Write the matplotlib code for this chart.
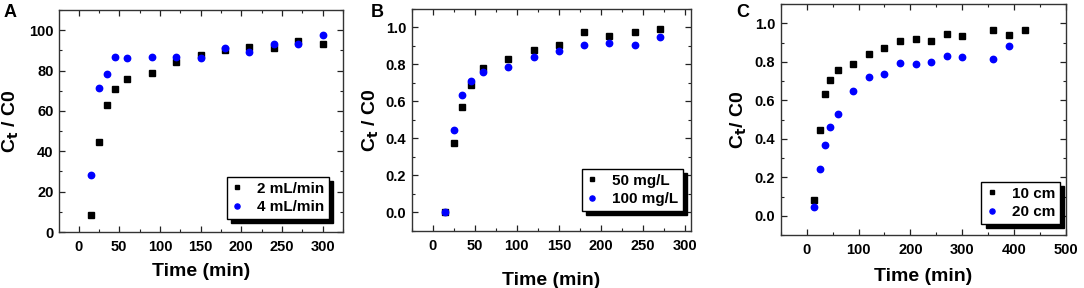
import matplotlib
matplotlib.use('Agg')
import matplotlib.pyplot as plt
from matplotlib.ticker import MultipleLocator

plt.rcParams['font.family'] = ['Liberation Sans', 'DejaVu Sans']
plt.rcParams['font.weight'] = 'bold'
plt.rcParams['mathtext.default'] = 'bf'

### panel A: flow rate
x_a = [15, 25, 35, 45, 60, 90, 120, 150, 180, 210, 240, 270, 300]
a_2ml = [8.6, 44.6, 63.1, 70.7, 75.8, 79.0, 84.2, 87.5, 90.4, 91.8, 91.0, 94.6, 93.2]
a_4ml = [28.3, 71.3, 78.2, 86.9, 86.4, 86.8, 86.9, 86.3, 91.2, 89.4, 93.3, 93.3, 97.4]

### panel B: initial concentration
x_b = [15, 25, 35, 45, 60, 90, 120, 150, 180, 210, 240, 270]
b_50 = [0.0, 0.373, 0.569, 0.686, 0.782, 0.827, 0.877, 0.906, 0.974, 0.956, 0.974, 0.990]
b_100 = [0.0, 0.447, 0.632, 0.708, 0.757, 0.787, 0.842, 0.874, 0.907, 0.915, 0.907, 0.946]

### panel C: bed height
x_c10 = [15, 25, 35, 45, 60, 90, 120, 150, 180, 210, 240, 270, 300, 360, 390, 420]
c_10 = [0.083, 0.447, 0.630, 0.706, 0.756, 0.788, 0.842, 0.873, 0.908, 0.916, 0.908,
        0.944, 0.936, 0.967, 0.941, 0.967]
x_c20 = [15, 25, 35, 45, 60, 90, 120, 150, 180, 210, 240, 270, 300, 360, 390]
c_20 = [0.047, 0.243, 0.370, 0.459, 0.527, 0.647, 0.722, 0.737, 0.795, 0.786, 0.797,
        0.828, 0.824, 0.814, 0.880]

fig = plt.figure(figsize=(10.84, 2.88), dpi=100)

def px_axes(l, r, t, b):
    W, H = 1084., 288.
    return fig.add_axes([l/W, 1 - b/H, (r - l)/W, (b - t)/H])

def style(ax, xmaj, ymaj):
    ax.xaxis.set_major_locator(MultipleLocator(xmaj))
    ax.xaxis.set_minor_locator(MultipleLocator(xmaj/2.))
    ax.yaxis.set_major_locator(MultipleLocator(ymaj))
    ax.yaxis.set_minor_locator(MultipleLocator(ymaj/2.))
    ax.tick_params(which='both', direction='in', top=True, right=True, colors='#222222',
                   labelcolor='black', labelsize=10.5)
    ax.tick_params(which='major', length=4, width=0.9)
    ax.tick_params(which='minor', length=2.5, width=0.8)
    ax.tick_params(axis='x', pad=6)
    ax.tick_params(axis='y', pad=4)
    for s in ax.spines.values():
        s.set_color('#333333')
        s.set_linewidth(1.0)

def draw(ax, xs1, ys1, lab1, xs2, ys2, lab2, anchor):
    ax.plot(xs1, ys1, 's', color='black', markersize=4.4, label=lab1)
    ax.plot(xs2, ys2, 'o', color='#0000ff', markersize=4.6, label=lab2)
    leg = ax.legend(loc='lower right', bbox_to_anchor=anchor, borderaxespad=0,
                    fancybox=False, shadow={'ox': 3, 'oy': -3, 'color': 'black', 'alpha': 1},
                    edgecolor='black', framealpha=1, markerscale=0.8,
                    handlelength=0.8, handletextpad=0.9, labelspacing=0.3,
                    borderpad=0.3, prop={'weight': 'bold', 'size': 11})
    leg.get_frame().set_linewidth(1.0)

axA = px_axes(59, 343, 10, 232)
draw(axA, x_a, a_2ml, '2 mL/min', x_a, a_4ml, '4 mL/min', (0.951, 0.059))
axA.set_xlim(-24, 325)
axA.set_ylim(0, 110)
style(axA, 50, 20)
axA.set_xlabel('Time (min)', fontsize=14, fontweight='bold', labelpad=6)
axA.set_ylabel('C$_t$ / C0', fontsize=14, fontweight='bold', labelpad=6)

axB = px_axes(411.7, 691, 9, 230.7)
draw(axB, x_b, b_50, '50 mg/L', x_b, b_100, '100 mg/L', (0.971, 0.09))
axB.set_xlim(-25, 307)
axB.set_ylim(-0.1, 1.1)
style(axB, 50, 0.2)
axB.set_xlabel('Time (min)', fontsize=14, fontweight='bold', labelpad=14)
axB.set_ylabel('C$_t$ / C0', fontsize=14, fontweight='bold', labelpad=3)

axC = px_axes(780.7, 1066, 4, 235)
draw(axC, x_c10, c_10, '10 cm', x_c20, c_20, '20 cm', (0.979, 0.048))
axC.set_xlim(-50, 500)
axC.set_ylim(-0.1, 1.1)
style(axC, 100, 0.2)
axC.set_xlabel('Time (min)', fontsize=14, fontweight='bold', labelpad=8)
axC.set_ylabel('C$_t$/ C0', fontsize=14, fontweight='bold', labelpad=4)

for lab, xp, yp in [('A', 4, 4), ('B', 371, 4), ('C', 736, 4)]:
    fig.text(xp/1084., 1 - yp/288., lab, fontsize=13, fontweight='bold', va='top', ha='left')

fig.savefig('out.png', dpi=100)
